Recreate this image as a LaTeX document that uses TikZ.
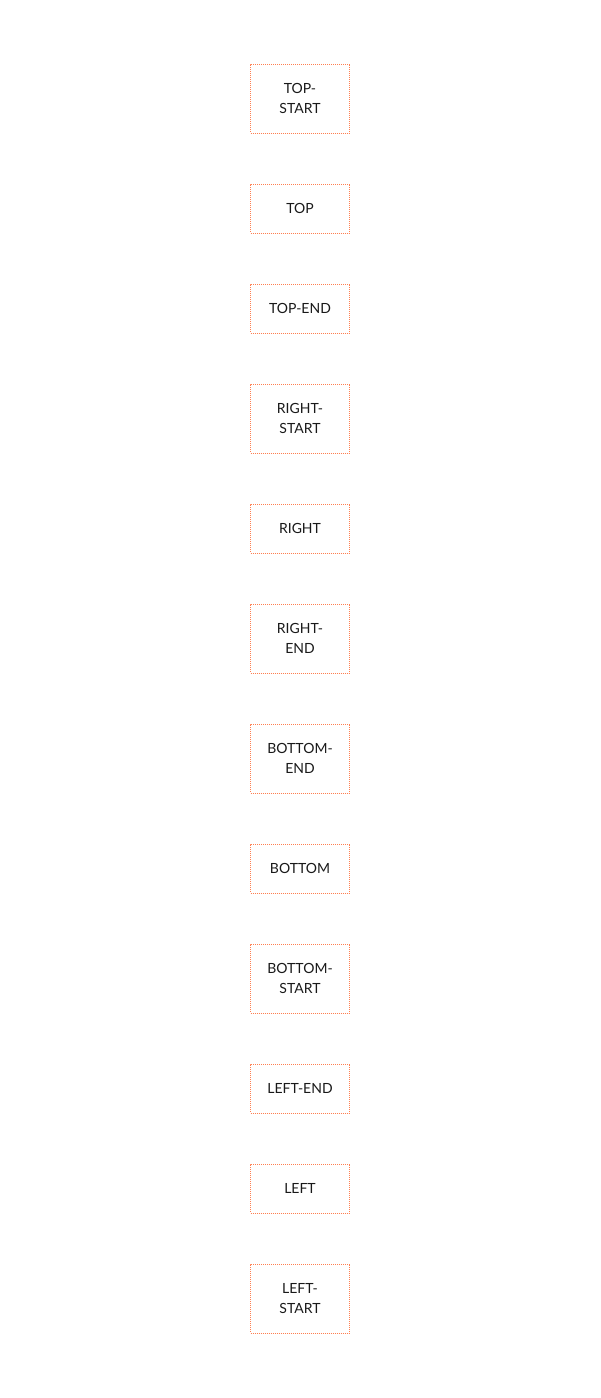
\documentclass[tikz,border=0pt]{standalone}
\usepackage{fontspec}
\setmainfont{Lato}
\definecolor{boxline}{HTML}{FF7F50}
\begin{document}
\begin{tikzpicture}[x=1pt,y=-1pt,font=\fontsize{14}{20}\selectfont,
  place/.style={draw=boxline,line width=1pt,dash pattern=on 1pt off 1pt,minimum width=99pt,
    text width=80pt,align=center,inner sep=0pt,text=black!90},
  one/.style={place,minimum height=49pt},two/.style={place,minimum height=69pt}]
\useasboundingbox (0,0) rectangle (600,1398);
\node[two] (topstart) at (300,98.5) {TOP-\\START};
\node[one] (top) at (300,208.5) {TOP};
\node[one] (topend) at (300,308.5) {TOP-END};
\node[two] (rightstart) at (300,418.5) {RIGHT-\\START};
\node[one] (right) at (300,528.5) {RIGHT};
\node[two] (rightend) at (300,638.5) {RIGHT-\\END};
\node[two] (bottomend) at (300,758.5) {BOTTOM-\\END};
\node[one] (bottom) at (300,868.5) {BOTTOM};
\node[two] (bottomstart) at (300,978.5) {BOTTOM-\\START};
\node[one] (leftend) at (300,1088.5) {LEFT-END};
\node[one] (left) at (300,1188.5) {LEFT};
\node[two] (leftstart) at (300,1298.5) {LEFT-\\START};
\end{tikzpicture}
\end{document}
